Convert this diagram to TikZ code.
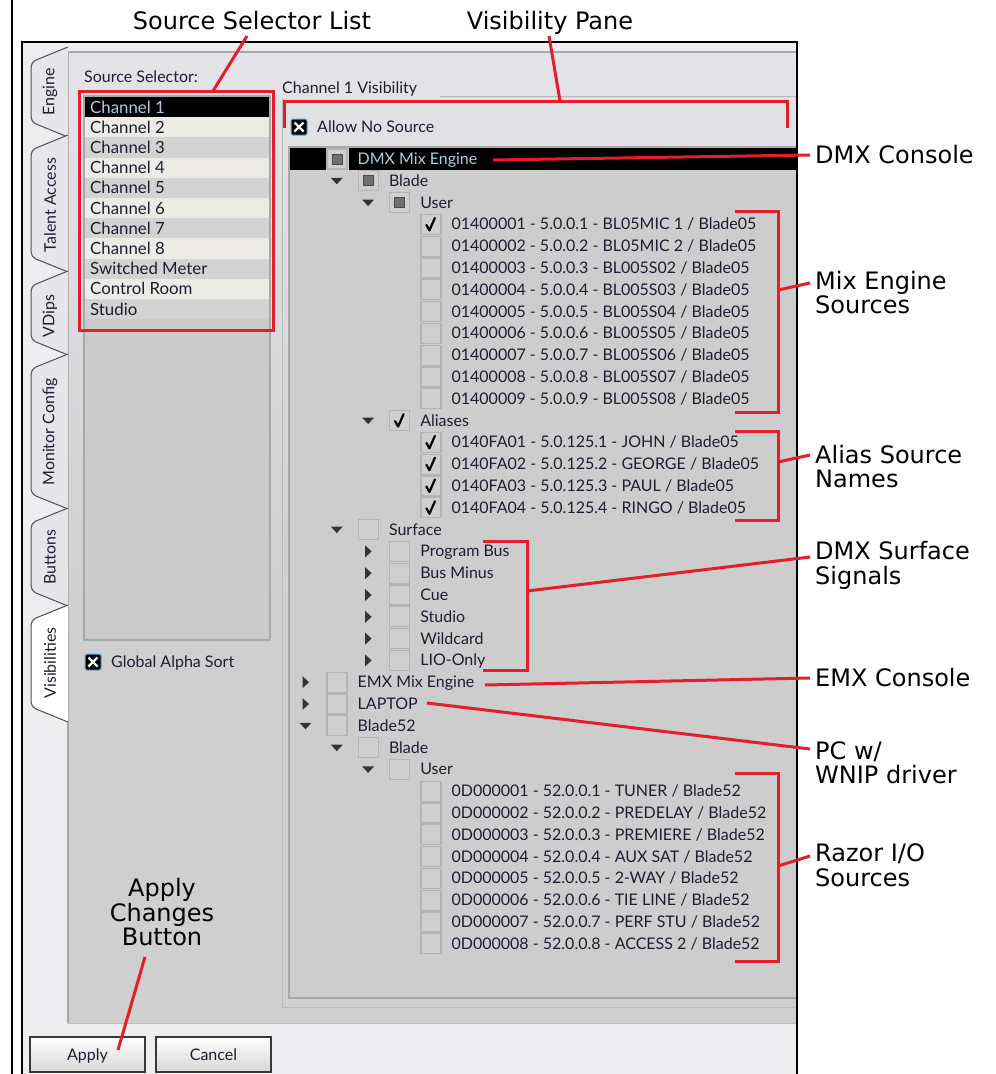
\documentclass[tikz,border=0pt]{standalone}
\usepackage{fontspec}
\setmainfont{Lato}
\newfontfamily\callfont{DejaVu Sans}
\definecolor{winbg}{HTML}{EEEEF0}
\definecolor{panellight}{HTML}{E4E4E8}
\definecolor{panelgray}{HTML}{CFCFCF}
\definecolor{treebg}{HTML}{CDCDCD}
\definecolor{listbg}{HTML}{CBCBCB}
\definecolor{rowlight}{HTML}{ECEBE6}
\definecolor{rowdark}{HTML}{D3D3D3}
\definecolor{uitext}{HTML}{1E1E30}
\definecolor{seltext}{HTML}{A9CFDC}
\definecolor{calred}{HTML}{E41E2B}
\definecolor{tabfill}{HTML}{E6E6EA}
\definecolor{tabborder}{HTML}{505050}
\definecolor{cbborder}{HTML}{B4B4B4}
\definecolor{cbfill}{HTML}{CFCFCF}
\definecolor{partb}{HTML}{4A4A4A}
\definecolor{partf}{HTML}{707070}
\definecolor{arrowc}{HTML}{333333}
\definecolor{frameline}{HTML}{A8A8A8}
\definecolor{xcbborder}{HTML}{6AA8D8}
\newcommand\TreeRow[6]{%
  \pgfmathsetmacro\ry{159+21.8*#1}%
  \pgfmathsetmacro\rcx{327+31.3*#2}%
  \pgfmathsetmacro\rax{305.5+31.3*#2}%
  \pgfmathsetmacro\rtx{357.5+31.3*#2}%
  \ifcase#3\or
    \fill[arrowc] (\rax-6,\ry-3) -- (\rax+6,\ry-3) -- (\rax,\ry+3.5) -- cycle;
  \or
    \fill[arrowc] (\rax-3,\ry-6) -- (\rax+3.5,\ry) -- (\rax-3,\ry+6) -- cycle;
  \fi
  \draw[cbox] (\rcx,\ry-10) rectangle (\rcx+20,\ry+10);
  \ifcase#4\or
    \filldraw[draw=partb, fill=partf, line width=1pt] (\rcx+5,\ry-5) rectangle (\rcx+15,\ry+5);
  \or
    \draw[line width=2.2pt, line join=round, line cap=round] (\rcx+5.5,\ry+0.5) -- (\rcx+8.5,\ry+6) -- (\rcx+14,\ry-6.5);
  \fi
  \node[ui, anchor=base west] (#6) at (\rtx,\ry+5.5) {#5};
}
\newcommand\TabShape[3]{%
  \filldraw[tabline, fill=#3, rounded corners=5pt] (68,#1) -- (31,#1+15) -- (31,#2-15) -- (68,#2);
}
\begin{document}
\begin{tikzpicture}[x=1pt,y=-1pt,
  callout/.style={font=\callfont\fontsize{24}{24.5}\selectfont, text=black, inner sep=0pt},
  ui/.style={font=\fontsize{16}{18}\selectfont, text=uitext, inner sep=0pt},
  listtxt/.style={font=\fontsize{16.8}{18}\selectfont, text=uitext, inner sep=0pt},
  tabtxt/.style={font=\fontsize{16}{17}\selectfont, text=uitext, rotate=90, inner sep=0pt},
  redline/.style={draw=calred, line width=3pt},
  cbox/.style={draw=cbborder, fill=cbfill, line width=1.3pt},
  tabline/.style={draw=tabborder, line width=1pt},
  xcb/.style={fill=black, draw=xcbborder, line width=1pt, rounded corners=1.5pt},
  btn/.style={top color=white, bottom color=black!16, draw=black!78, line width=1.5pt},
]
\useasboundingbox (0,0) rectangle (996,1074);
\fill[white] (0,0) rectangle (996,1074);
% outer frame line
\draw[line width=2.5pt] (12,0) -- (12,1074);
% window
\fill[winbg] (22,42) rectangle (797,1074);
% main panel
\fill[panelgray] (68,52) rectangle (797,1023);
\shade[top color=panellight, bottom color=panelgray] (68,52) rectangle (797,640);
\draw[frameline, line width=1.2pt] (68,1023) -- (68,52) -- (797,52);
\draw[black!25, line width=1pt] (68,1023) -- (797,1023);
% tabs
\TabShape{47}{137}{tabfill}
\TabShape{135}{272}{tabfill}
\TabShape{271}{355}{tabfill}
\TabShape{354}{509}{tabfill}
\TabShape{508}{606}{tabfill}
\TabShape{605}{722}{white}
\node[tabtxt] (tEngine) at (50,92) {Engine};
\node[tabtxt] (tTalent) at (50,205) {Talent Access};
\node[tabtxt] (tVDips) at (50,316) {VDips};
\node[tabtxt] (tMonitor) at (50,432) {Monitor Config};
\node[tabtxt] (tButtons) at (50,557) {Buttons};
\node[tabtxt] (tVis) at (50,663) {Visibilities};
% source selector
\node[ui, anchor=base west] (srcsel) at (84,82) {Source Selector:};
\filldraw[fill=listbg, draw=frameline, line width=1.2pt] (84,96) rectangle (270,640);
\foreach \k/\t in {0/Channel 1,1/Channel 2,2/Channel 3,3/Channel 4,4/Channel 5,5/Channel 6,6/Channel 7,7/Channel 8,8/Switched Meter,9/Control Room,10/Studio}{
  \pgfmathsetmacro\ly{107+20.2*\k}
  \ifnum\k=0
    \fill[black] (85,\ly-10.1) rectangle (269,\ly+10.1);
    \node[listtxt, anchor=base west, text=seltext] (li\k) at (90,\ly+6) {\t};
  \else
    \ifodd\k
      \fill[rowlight] (85,\ly-10.1) rectangle (269,\ly+10.1);
    \else
      \fill[rowdark] (85,\ly-10.1) rectangle (269,\ly+10.1);
    \fi
    \node[listtxt, anchor=base west] (li\k) at (90,\ly+6) {\t};
  \fi
}
% global alpha sort
\filldraw[xcb] (85,654) rectangle (101,670);
\draw[white, line width=2.2pt] (88.5,657.5) -- (97.5,666.5) (97.5,657.5) -- (88.5,666.5);
\node[ui, anchor=base west] (gas) at (111,667.5) {Global Alpha Sort};
% visibility group
\node[ui, anchor=base west] (chvis) at (282,93.5) {Channel 1 Visibility};
\draw[black!28, line width=1pt] (440,96) -- (797,96);
\draw[black!28, line width=1pt] (282,98) -- (282,1007) -- (797,1007);
\filldraw[xcb] (291,119) rectangle (307,135);
\draw[white, line width=2.2pt] (294.5,122.5) -- (303.5,131.5) (303.5,122.5) -- (294.5,131.5);
\node[ui, anchor=base west] (allow) at (317,132.5) {Allow No Source};
% tree box
\filldraw[fill=treebg, draw=frameline, line width=1.2pt] (289,147) rectangle (797,998);
\fill[black] (290,148) rectangle (797,169.5);
\fill[treebg] (326,148) rectangle (349,169.5);
\TreeRow{0}{0}{0}{1}{\color{seltext}DMX Mix Engine}{rDMX}
\TreeRow{1}{1}{1}{1}{Blade}{rBlade}
\TreeRow{2}{2}{1}{1}{User}{rUser}
\TreeRow{3}{3}{0}{2}{01400001 - 5.0.0.1 - BL05MIC 1 / Blade05}{m1}
\TreeRow{4}{3}{0}{0}{01400002 - 5.0.0.2 - BL05MIC 2 / Blade05}{m2}
\TreeRow{5}{3}{0}{0}{01400003 - 5.0.0.3 - BL005S02 / Blade05}{m3}
\TreeRow{6}{3}{0}{0}{01400004 - 5.0.0.4 - BL005S03 / Blade05}{m4}
\TreeRow{7}{3}{0}{0}{01400005 - 5.0.0.5 - BL005S04 / Blade05}{m5}
\TreeRow{8}{3}{0}{0}{01400006 - 5.0.0.6 - BL005S05 / Blade05}{m6}
\TreeRow{9}{3}{0}{0}{01400007 - 5.0.0.7 - BL005S06 / Blade05}{m7}
\TreeRow{10}{3}{0}{0}{01400008 - 5.0.0.8 - BL005S07 / Blade05}{m8}
\TreeRow{11}{3}{0}{0}{01400009 - 5.0.0.9 - BL005S08 / Blade05}{m9}
\TreeRow{12}{2}{1}{2}{Aliases}{rAliases}
\TreeRow{13}{3}{0}{2}{0140FA01 - 5.0.125.1 - JOHN / Blade05}{a1}
\TreeRow{14}{3}{0}{2}{0140FA02 - 5.0.125.2 - GEORGE / Blade05}{a2}
\TreeRow{15}{3}{0}{2}{0140FA03 - 5.0.125.3 - PAUL / Blade05}{a3}
\TreeRow{16}{3}{0}{2}{0140FA04 - 5.0.125.4 - RINGO / Blade05}{a4}
\TreeRow{17}{1}{1}{0}{Surface}{rSurface}
\TreeRow{18}{2}{2}{0}{Program Bus}{s1}
\TreeRow{19}{2}{2}{0}{Bus Minus}{s2}
\TreeRow{20}{2}{2}{0}{Cue}{s3}
\TreeRow{21}{2}{2}{0}{Studio}{s4}
\TreeRow{22}{2}{2}{0}{Wildcard}{s5}
\TreeRow{23}{2}{2}{0}{LIO-Only}{s6}
\TreeRow{24}{0}{2}{0}{EMX Mix Engine}{rEMX}
\TreeRow{25}{0}{2}{0}{LAPTOP}{rLaptop}
\TreeRow{26}{0}{1}{0}{Blade52}{rBlade52}
\TreeRow{27}{1}{1}{0}{Blade}{rBladeB}
\TreeRow{28}{2}{1}{0}{User}{rUserB}
\TreeRow{29}{3}{0}{0}{0D000001 - 52.0.0.1 - TUNER / Blade52}{z1}
\TreeRow{30}{3}{0}{0}{0D000002 - 52.0.0.2 - PREDELAY / Blade52}{z2}
\TreeRow{31}{3}{0}{0}{0D000003 - 52.0.0.3 - PREMIERE / Blade52}{z3}
\TreeRow{32}{3}{0}{0}{0D000004 - 52.0.0.4 - AUX SAT / Blade52}{z4}
\TreeRow{33}{3}{0}{0}{0D000005 - 52.0.0.5 - 2-WAY / Blade52}{z5}
\TreeRow{34}{3}{0}{0}{0D000006 - 52.0.0.6 - TIE LINE / Blade52}{z6}
\TreeRow{35}{3}{0}{0}{0D000007 - 52.0.0.7 - PERF STU / Blade52}{z7}
\TreeRow{36}{3}{0}{0}{0D000008 - 52.0.0.8 - ACCESS 2 / Blade52}{z8}
% buttons
\shadedraw[btn] (30,1037) rectangle (145,1072);
\shadedraw[btn] (156,1037) rectangle (271,1072);
\node[ui, anchor=base] (bApply) at (87.5,1060.5) {Apply};
\node[ui, anchor=base] (bCancel) at (213.5,1060.5) {Cancel};
% window border
\draw[line width=1.6pt] (22,1074) -- (22,42) -- (797,42) -- (797,1074);
% callout labels
\node[callout, anchor=base] (lSSL) at (252,29) {Source Selector List};
\node[callout, anchor=base] (lVP) at (550,29) {Visibility Pane};
\node[callout, anchor=west] (lDMX) at (815,155) {DMX Console};
\node[callout, anchor=west, align=left] (lMix) at (815,292.5) {Mix Engine\\Sources};
\node[callout, anchor=west, align=left] (lAlias) at (815,466.5) {Alias Source\\Names};
\node[callout, anchor=west, align=left] (lSurf) at (815,565.5) {DMX Surface\\Signals};
\node[callout, anchor=west] (lEMX) at (815,678) {EMX Console};
\node[callout, anchor=west, align=left] (lPC) at (815,763) {PC w/\\WNIP driver};
\node[callout, anchor=west, align=left] (lRazor) at (815,865.5) {Razor I/O\\Sources};
\node[callout, anchor=north, align=center] (lApply) at (162,878.5) {Apply\\Changes\\Button};
% red annotation lines
\coordinate (sslA) at (247,36);
\coordinate (sslB) at (213,91);
\draw[redline] (79,91) rectangle (273,330);
\draw[redline] (sslA) -- (sslB);
\coordinate (vpA) at (549,36);
\coordinate (vpB) at (560,101);
\draw[redline] (vpA) -- (vpB);
\draw[redline] (284,128) -- (284,101) -- (787,101) -- (787,128);
\coordinate (dmxA) at (493,160);
\coordinate (dmxB) at (810,155);
\draw[redline] (dmxA) -- (dmxB);
\draw[redline] (735,211) -- (778,211) -- (778,412) -- (735,412);
\coordinate (mixA) at (778,290);
\coordinate (mixB) at (810,283);
\draw[redline] (mixA) -- (mixB);
\draw[redline] (735,431) -- (778,431) -- (778,520) -- (735,520);
\coordinate (alA) at (778,462);
\coordinate (alB) at (810,455);
\draw[redline] (alA) -- (alB);
\draw[redline] (483,541) -- (527,541) -- (527,670) -- (483,670);
\coordinate (sfA) at (527,591);
\coordinate (sfB) at (810,557);
\draw[redline] (sfA) -- (sfB);
\coordinate (emxA) at (485,685);
\coordinate (emxB) at (810,678);
\draw[redline] (emxA) -- (emxB);
\coordinate (lapA) at (427,703);
\coordinate (lapB) at (810,749);
\draw[redline] (lapA) -- (lapB);
\draw[redline] (735,773) -- (778,773) -- (778,961) -- (735,961);
\coordinate (rzA) at (778,866);
\coordinate (rzB) at (810,856);
\draw[redline] (rzA) -- (rzB);
\coordinate (apA) at (145,957);
\coordinate (apB) at (118,1050);
\draw[redline] (apA) -- (apB);
\end{tikzpicture}
\end{document}
